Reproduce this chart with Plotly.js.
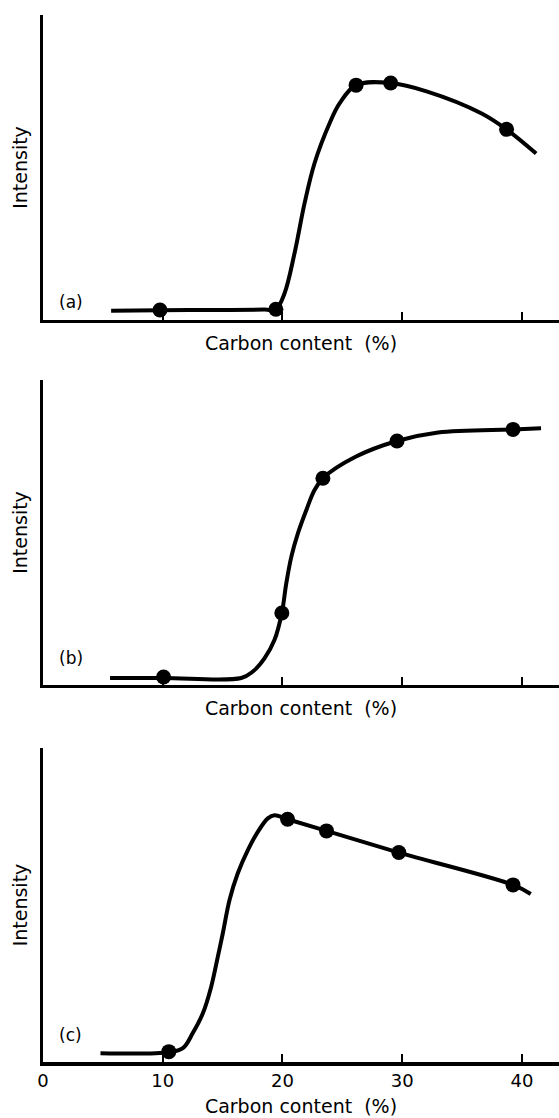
<!DOCTYPE html>
<html>
<head>
<meta charset="utf-8">
<script src="https://cdn.plot.ly/plotly-3.0.1.min.js"></script>
<style>html,body{margin:0;padding:0;background:#fff;}#chart{width:559px;height:1118px;}</style>
</head>
<body>
<div id="chart"></div>
<script>
// Panel (a): measured points and hand-read curve
const pointsAX = [9.77, 19.45, 26.15, 29.04, 38.72];
const pointsAY = [3.3, 3.5, 77.0, 77.7, 62.5];
const curveAX = [5.69, 9.77, 15.0, 18.5, 19.45, 20.17, 21.01, 21.85, 22.68, 23.94, 24.77, 26.15, 29.04, 32.1, 36.6, 38.72, 41.19];
const curveAY = [3.0, 3.2, 3.3, 3.4, 3.5, 8.7, 21.9, 38.3, 51.4, 64.5, 71.0, 77.0, 77.7, 74.9, 67.8, 62.5, 54.6];

// Panel (b)
const pointsBX = [10.07, 19.95, 23.38, 29.57, 39.26];
const pointsBY = [2.6, 23.6, 67.8, 80.0, 83.8];
const curveBX = [5.6, 10.07, 16.56, 17.53, 18.5, 19.34, 19.95, 20.32, 20.74, 21.29, 21.99, 22.68, 23.38, 26.15, 29.57, 33.0, 39.26, 41.6];
const curveBY = [2.3, 2.3, 2.3, 4.4, 8.7, 14.8, 23.6, 33.3, 42.0, 49.7, 57.3, 63.9, 67.8, 74.9, 80.0, 82.8, 83.8, 84.2];

// Panel (c)
const pointsCX = [10.51, 20.43, 23.68, 29.72, 39.26];
const pointsCY = [3.3, 77.3, 73.6, 66.7, 56.4];
const curveCX = [4.8, 10.51, 11.68, 12.51, 13.35, 14.05, 14.6, 15.02, 15.58, 16.27, 17.11, 17.94, 18.78, 19.34, 20.43, 23.68, 29.72, 39.26, 40.74];
const curveCY = [2.8, 3.1, 4.4, 9.2, 15.5, 24.0, 33.5, 41.0, 51.6, 60.1, 67.5, 73.3, 77.6, 78.6, 77.3, 73.6, 66.7, 56.4, 53.5];

const tickVals = [0, 10, 20, 30, 40];
const tickText = ['0', '10', '20', '30', '40'];
const panelLabels = ['(a)', '(b)', '(c)'];
const xTitle = 'Carbon content  (%)';
const yTitle = 'Intensity';

const FONT = 'DejaVu Sans, sans-serif';
const lineStyle = {color: '#000', width: 4, shape: 'spline', smoothing: 1};
const markerStyle = {color: '#000', size: 15};

function curve(x, y, n) {
  return {x: x, y: y, mode: 'lines', line: lineStyle, xaxis: 'x' + n, yaxis: 'y' + n, hoverinfo: 'skip', showlegend: false};
}
function pts(x, y, n) {
  return {x: x, y: y, mode: 'markers', marker: markerStyle, xaxis: 'x' + n, yaxis: 'y' + n, showlegend: false};
}

const data = [
  curve(curveAX, curveAY, ''), pts(pointsAX, pointsAY, ''),
  curve(curveBX, curveBY, 2), pts(pointsBX, pointsBY, 2),
  curve(curveCX, curveCY, 3), pts(pointsCX, pointsCY, 3)
];

function xax(anchor, showLabels, titleStandoff) {
  return {
    anchor: anchor, domain: [0, 1], range: [0, 43.1],
    showline: true, linecolor: '#000', linewidth: 3.5,
    showgrid: false, zeroline: false,
    ticks: 'inside', ticklen: 8, tickwidth: 2, tickcolor: '#000',
    tickvals: tickVals, ticktext: tickText, showticklabels: showLabels,
    tickfont: {family: FONT, size: 18, color: '#000'},
    title: {text: xTitle, font: {family: FONT, size: 19, color: '#000'}, standoff: titleStandoff}
  };
}
function yax(anchor, domain) {
  return {
    anchor: anchor, domain: domain, range: [0, 100],
    showline: true, linecolor: '#000', linewidth: 3.5,
    showgrid: false, zeroline: false, ticks: '', showticklabels: false,
    title: {text: yTitle, font: {family: FONT, size: 19, color: '#000'}, standoff: 8}
  };
}

const layout = {
  width: 559, height: 1118,
  margin: {l: 43, r: 0, t: 15, b: 56},
  paper_bgcolor: '#fff', plot_bgcolor: '#fff',
  showlegend: false,
  xaxis: xax('y', false, 15),
  yaxis: yax('x', [0.7087, 1.0]),
  xaxis2: xax('y2', false, 15),
  yaxis2: yax('x2', [0.3601, 0.6514]),
  xaxis3: xax('y3', true, 10),
  yaxis3: yax('x3', [0.0, 0.2999]),
  annotations: [
    {text: panelLabels[0], x: 2.3, y: 5.9, xref: 'x', yref: 'y', showarrow: false, font: {family: FONT, size: 17, color: '#000'}},
    {text: panelLabels[1], x: 2.3, y: 8.9, xref: 'x2', yref: 'y2', showarrow: false, font: {family: FONT, size: 17, color: '#000'}},
    {text: panelLabels[2], x: 2.3, y: 8.6, xref: 'x3', yref: 'y3', showarrow: false, font: {family: FONT, size: 17, color: '#000'}}
  ]
};

Plotly.newPlot('chart', data, layout, {displayModeBar: false, staticPlot: true});
</script>
</body>
</html>
